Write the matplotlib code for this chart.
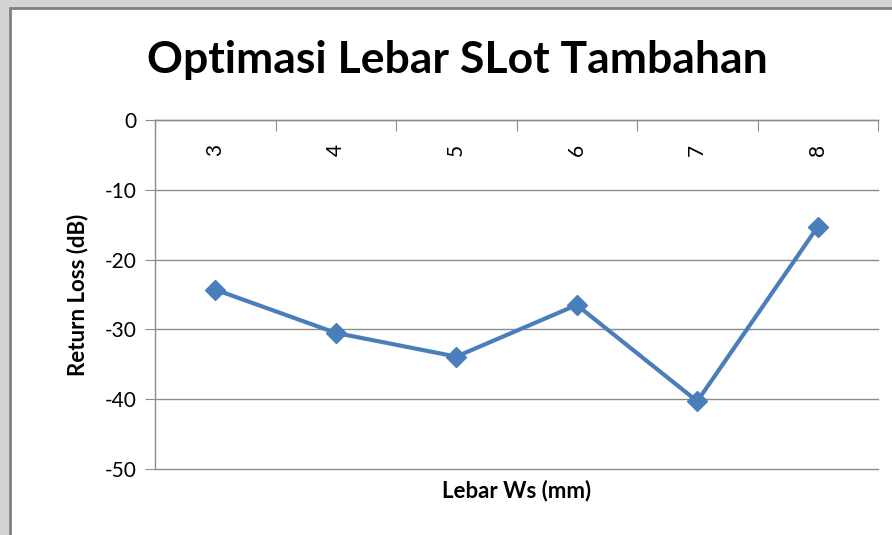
import matplotlib.pyplot as plt
from matplotlib.patches import Rectangle

# Data
widths = ["3", "4", "5", "6", "7", "8"]
return_loss = [-24.3, -30.5, -33.9, -26.5, -40.3, -15.3]
y_ticks = [0, -10, -20, -30, -40, -50]

LINE_BLUE = "#4a7ebb"
GRID_GREY = "#8c8c8c"

plt.rcParams['font.family'] = ['Lato', 'DejaVu Sans']

fig = plt.figure(figsize=(8.92, 5.35), dpi=100)
fig.patch.set_facecolor("#d4d4d4")

# white chart area with a dark edge, like the pasted Excel chart
fig.patches.append(Rectangle((10 / 892, -0.05), 1.1, 1.05 - 8 / 535, transform=fig.transFigure,
                             facecolor="white", edgecolor="#808080", linewidth=2.0, zorder=-5))

ax = fig.add_axes([155 / 892, 1 - 469 / 535, (878 - 155) / 892, (469 - 120) / 535])
ax.set_facecolor("white")

x = list(range(len(widths)))
ax.plot(x, return_loss, color=LINE_BLUE, linewidth=3, marker="D", markersize=10,
        markerfacecolor=LINE_BLUE, markeredgecolor=LINE_BLUE, zorder=3)

ax.set_xlim(-0.5, len(widths) - 0.5)
ax.set_ylim(-50, 0)
ax.set_yticks(y_ticks)
ax.set_yticklabels([str(v) for v in y_ticks])
ax.yaxis.grid(True, color=GRID_GREY, linewidth=1.0)
ax.set_axisbelow(True)
for gl in ax.get_ygridlines():
    gl.set_clip_on(False)

# category axis sits at y=0 (top); ticks at category boundaries pointing down
ax.set_xticks([i - 0.5 for i in range(len(widths) + 1)])
ax.set_xticklabels([])
ax.tick_params(axis="x", direction="in", top=True, bottom=False, length=8,
               color=GRID_GREY, labeltop=False, labelbottom=False)
ax.tick_params(axis="y", direction="out", length=7, color=GRID_GREY,
               labelsize=15, pad=6)

for i, lab in enumerate(widths):
    ax.text(i, -4.3, lab, rotation=90, ha="center", va="center", fontsize=15)

for side in ["right", "bottom"]:
    ax.spines[side].set_visible(False)
for side in ["left", "top"]:
    ax.spines[side].set_color(GRID_GREY)
    ax.spines[side].set_linewidth(1.0)

ax.set_xlabel("Lebar Ws (mm)", fontsize=16, fontweight="bold", labelpad=8)
ax.set_ylabel("Return Loss (dB)", fontsize=16, fontweight="bold", labelpad=12)

fig.text(457 / 892, 1 - 60 / 535, "Optimasi Lebar SLot Tambahan", ha="center", va="center",
         fontsize=32, fontweight="bold")

fig.savefig("out.png", dpi=100, facecolor=fig.get_facecolor())
